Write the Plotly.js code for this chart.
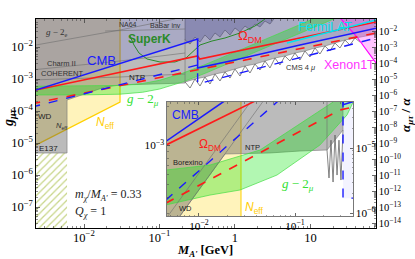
<!DOCTYPE html>
<html><head><meta charset="utf-8">
<script src="https://cdn.plot.ly/plotly-3.0.1.min.js"></script>
<style>html,body{margin:0;padding:0;background:#fff}</style>
</head><body><div id="chart" style="width:415px;height:259px"></div>
<script>
// ---------------- MAIN PANEL DATA (M in GeV, g_mu-tau) ----------------
const hatchM = [0.002, 0.00596];
const hatchG = [4.87e-6, 1e-8];
const neffM = [0.002, 0.030, 0.030, 0.002];
const neffG = [0.1, 0.1, 1.91e-4, 7.3e-6];
const grayCapM = [0.002, 100, 100];
const grayCapG = [0.1, 0.1, 0.029];
const cmsM = [0.218,0.254,0.295,0.344,0.400,0.467,0.543,0.633,0.737,0.859,1.00,1.165,1.357,1.58,1.84,2.143,2.496,2.907,3.385,3.943,4.592,5.348,6.229,7.255,8.449,9.84,11.46,13.35,15.55,18.11,21.09,24.56,28.61,33.32,38.8,45.19];
const cmsG = [8.06e-4,5.23e-4,1.0e-3,6.05e-4,1.155e-3,6.98e-4,1.43e-3,8.66e-4,1.66e-3,1.07e-3,2.05e-3,1.24e-3,2.55e-3,1.54e-3,2.94e-3,1.91e-3,3.65e-3,2.21e-3,4.53e-3,2.74e-3,5.23e-3,3.65e-3,6.49e-3,3.92e-3,7.5e-3,4.87e-3,9.31e-3,6.04e-3,1.075e-2,7.5e-3,1.333e-2,9.31e-3,1.655e-2,1.155e-2,1.913e-2,1.432e-2];
const ntpM = [0.218, 0.0748, 0.030, 0.019, 0.00596, 0.00596, 0.002];
const ntpG = [7.5e-4, 6.98e-4, 6.49e-4, 5.62e-4, 2.21e-4, 4.87e-6, 4.87e-6];
const babM = [0.218,0.218,0.254,0.295,0.344,0.400,0.467,0.543,0.633,0.737,0.859,1.0,1.165,1.357,1.58,1.84,2.143,2.496,2.907,3.6];
const babG = [0.1,0.01655,0.01241,0.02054,0.01432,0.0237,0.01655,0.0274,0.0205,0.034,0.0237,0.0393,0.02944,0.0453,0.034,0.0523,0.0422,0.0649,0.0523,0.1];
const cohM = [0.002, 0.030, 0.218];
const cohG = [9.3e-4, 1.155e-3, 1.43e-3];
const charmM = [0.002, 0.030, 0.218];
const charmG = [1.91e-3, 3.65e-3, 6.49e-3];
const g2eM = [0.002, 0.030, 0.16];
const g2eG = [1.087e-2, 0.034, 0.075];
const babInvM = [0.019, 0.218];
const babInvG = [0.0316, 0.0365];
const vlineM = [0.218, 0.218];
const vlineG = [0.0178, 8.06e-4];
const cmbM = [0.002, 0.32, 0.32, 1.0, 7.26, 100];
const cmbG = [4.06e-4, 0.0178, 2.21e-3, 3.92e-3, 0.01155, 0.0453];
const capM = [100, 0.002];
const capG = [0.1, 0.1];
const bdM = [0.002, 0.32, 0.32, 100];
const bdG = [1.31e-4, 2.74e-3, 6.98e-4, 0.0230];
const rsM = [0.002, 0.32, 0.34, 100];
const rsG = [4.22e-4, 5.23e-3, 4.22e-3, 0.0702];
const rdM = [0.002, 100];
const rdG = [1.66e-4, 0.0317];
const g2M  = [0.002,0.01,0.03,0.06,0.1,0.2,0.4,1,2,5,10,20,80];
const g2Up = [5.94e-4,5.98e-4,6.29e-4,7.24e-4,9.09e-4,1.5e-3,2.81e-3,6.91e-3,1.38e-2,3.44e-2,6.88e-2,0.1375,0.55];
const g2Lo = [3.17e-4,3.19e-4,3.35e-4,3.86e-4,4.85e-4,7.99e-4,1.5e-3,3.68e-3,7.34e-3,1.83e-2,3.67e-2,7.33e-2,0.294];
const skM = [0.0407,0.0459,0.0535,0.0683,0.1016,0.160,0.2244,0.2778,0.344,0.4958,0.737,1.165,1.84,2.496];
const skG = [0.0221,0.01155,0.00649,0.00422,0.0034,0.0034,0.00453,0.0075,0.01155,0.0154,0.0191,0.0274,0.0453,0.075];
const fermiM = [4.88, 100];
const fermiG = [0.01334, 0.084];
const xenM = [22.8, 25.3, 41.3, 73.7, 100, 100];
const xenG = [0.1, 0.075, 0.0205, 3.16e-3, 1.19e-3, 0.1];

// ---------------- INSET DATA ----------------
const insNeffM = [0.004, 0.0274, 0.0274, 0.004];
const insNeffG = [0.003, 0.003, 2.5e-4, 2.5e-4];
const insJagM = [0.2154,0.226,0.237,0.249,0.261,0.274,0.287,0.301,0.3162];
const insJagG = [9.24e-4,5.63e-4,1.10e-3,5.24e-4,1.205e-3,5.93e-4,1.10e-3,5.43e-4,1.316e-3];
const insGrayTopM = [0.0045, 0.3162];
const insGrayTopG = [2.3e-3, 2.3e-3];
const insNtpM = [0.1128, 0.0549, 0.01866, 0.00634, 0.00634, 0.0045];
const insNtpG = [9.08e-4, 8.77e-4, 8.61e-4, 2.87e-4, 2.7e-4, 2.7e-4];
const insUpM = [0.0045,0.01303,0.0432,0.0953,0.249,0.262];
const insUpG = [6.48e-4,7.08e-4,9.24e-4,1.36e-3,2.16e-3,2.3e-3];
const insLoM = [0.0045,0.01303,0.02674,0.0649,0.182,0.3483,0.42];
const insLoG = [3.49e-4,4.16e-4,4.55e-4,5.93e-4,1.01e-3,1.72e-3,2.3e-3];
const insCmbM = [0.0045, 0.0201];
const insCmbG = [1.074e-3, 2.3e-3];
const insCmb2M = [0.3162, 0.3162, 0.42];
const insCmb2G = [2.4e-3, 2.06e-3, 2.2e-3];
const insRsM = [0.0045, 0.0433];
const insRsG = [1.007e-3, 2.3e-3];
const insBdM = [0.0045, 0.0714];
const insBdG = [3.80e-4, 2.3e-3];
const insBoxM = [0.3162, 0.3162, 0.42, 0.42];
const insBoxG = [2.3e-3, 3.94e-4, 3.94e-4, 2.3e-3];
const insRdM = [0.0045, 0.2944, 0.42];
const insRdG = [3.60e-4, 1.88e-3, 1.99e-3];
const insL1M = [0.00475, 0.0356];
const insL1G = [2.87e-4, 2.24e-3];
const insL2M = [0.00634, 0.0476];
const insL2G = [2.87e-4, 2.24e-3];
const insVM = [0.2154, 0.2154];
const insVG = [2.3e-3, 9.24e-4];

// ---------------- BUILD TRACES ----------------
const traces = [];
function add(t, inset){
  t.type = 'scatter'; t.mode = 'lines'; t.hoverinfo = 'skip';
  if (inset) { t.xaxis = 'x2'; t.yaxis = 'y3'; }
  traces.push(t);
}
const rev = a => a.slice().reverse();
const even = a => a.filter((v, i) => i % 2 === 0);
const BLUE = '#1a1aff', RED = '#ff1a1a', GLINE = '#777';

// main
add({x:[hatchM[0],hatchM[1],hatchM[1],hatchM[0]], y:[hatchG[0],hatchG[0],hatchG[1],hatchG[1]],
     fill:'toself', fillcolor:'#ffffff',
     fillpattern:{shape:'/', fgcolor:'#c8d68a', bgcolor:'#ffffff', size:5, solidity:0.25}, line:{width:0}});
add({x:neffM, y:neffG, fill:'toself', fillcolor:'rgba(255,222,60,0.35)', line:{color:'#ffd000', width:1.2}});
add({x:grayCapM.concat(rev(even(cmsM)), ntpM), y:grayCapG.concat(rev(even(cmsG)), ntpG),
     fill:'toself', fillcolor:'rgba(85,85,85,0.40)', line:{color:GLINE, width:0.6}});
add({x:cmsM, y:cmsG, line:{color:'#666', width:0.8}});
add({x:babM, y:babG, fill:'toself', fillcolor:'rgba(50,50,110,0.28)', line:{color:'#555', width:0.6}});
add({x:cmbM.concat(capM), y:cmbG.concat(capG), fill:'toself', fillcolor:'rgba(70,70,255,0.14)', line:{width:0}});
add({x:xenM, y:xenG, fill:'toself', fillcolor:'rgba(255,60,255,0.30)', line:{color:'#ff00ff', width:1.2}});
add({x:g2M.concat(rev(g2M)), y:g2Up.concat(rev(g2Lo)), fill:'toself', fillcolor:'rgba(0,230,0,0.30)', line:{color:'#44dd44', width:0.7}});
[[cohM,cohG],[charmM,charmG],[g2eM,g2eG],[babInvM,babInvG],[vlineM,vlineG]].forEach(p=>{
  add({x:p[0], y:p[1], line:{color:'#6e6e6e', width:0.6}});
});
add({x:skM, y:skG, line:{color:'#2a8a2a', width:1.0}});
add({x:rdM, y:rdG, line:{color:RED, width:1.6, dash:'dash'}});
add({x:bdM, y:bdG, line:{color:BLUE, width:1.4, dash:'dash'}});
add({x:rsM, y:rsG, line:{color:RED, width:1.6}});
add({x:cmbM, y:cmbG, line:{color:BLUE, width:1.6}});
add({x:fermiM, y:fermiG, line:{color:'#00e5ee', width:1.6}});
// invisible carrier so the right-hand alpha axis is drawn
traces.push({type:'scatter', mode:'lines', x:rdM, y:rdG, xaxis:'x', yaxis:'y2', opacity:0, line:{width:0}, hoverinfo:'skip'});

// inset
add({x:insNeffM, y:insNeffG, fill:'toself', fillcolor:'rgba(255,222,60,0.35)', line:{color:'#ffd000', width:1}}, true);
add({x:insGrayTopM.concat([insJagM[insJagM.length-1], insJagM[0]], insNtpM),
     y:insGrayTopG.concat([insJagG[insJagG.length-1], insJagG[0]], insNtpG),
     fill:'toself', fillcolor:'rgba(85,85,85,0.40)', line:{color:GLINE, width:0.6}}, true);
add({x:insBoxM, y:insBoxG, fill:'toself', fillcolor:'rgba(190,190,255,0.18)', line:{width:0}}, true);
add({x:insUpM.concat(rev(insLoM)), y:insUpG.concat(rev(insLoG)), fill:'toself', fillcolor:'rgba(0,230,0,0.30)', line:{color:'#44dd44', width:0.7}}, true);
add({x:insJagM, y:insJagG, line:{color:'#666', width:0.8}}, true);
[[insL1M,insL1G],[insL2M,insL2G],[insVM,insVG]].forEach(p=>{
  add({x:p[0], y:p[1], line:{color:'#6e6e6e', width:0.6}}, true);
});
add({x:insRdM, y:insRdG, line:{color:RED, width:1.6, dash:'dash'}}, true);
add({x:insBdM, y:insBdG, line:{color:BLUE, width:1.4, dash:'dash'}}, true);
add({x:insBoxM.slice(0,3), y:insBoxG.slice(0,3), line:{color:BLUE, width:1.4, dash:'dash'}}, true);
add({x:insRsM, y:insRsG, line:{color:RED, width:1.6}}, true);
add({x:insCmbM, y:insCmbG, line:{color:BLUE, width:1.6}}, true);
add({x:insCmb2M, y:insCmb2G, line:{color:BLUE, width:1.6}}, true);
traces.push({type:'scatter', mode:'lines', x:insRdM, y:insRdG, xaxis:'x2', yaxis:'y4', opacity:0, line:{width:0}, hoverinfo:'skip'});

// ---------------- LAYOUT ----------------
const L = 36, R = 376, T = 19, B = 228;
const px = x => (x - L) / (R - L);
const py = y => (B - y) / (B - T);
const SANS = 'Liberation Sans', SERIF = 'Liberation Serif';
function A(x, y, text, size, color, extra){
  return Object.assign({xref:'paper', yref:'paper', x:px(x), y:py(y), text:text, showarrow:false,
    font:{family:SANS, size:size, color:color}, xanchor:'center', yanchor:'middle'}, extra || {});
}
const annotations = [
  A(57, 32, '<i>g</i> − 2<sub>e</sub>', 9, '#333', {font:{family:SERIF, size:9, color:'#333'}}),
  A(61, 63, 'Charm II', 7.5, '#333'),
  A(62, 73, 'COHERENT', 7.5, '#333'),
  A(101, 60, 'CMB', 13, BLUE),
  A(128, 24, 'NA64', 7, '#333'),
  A(165, 25, 'BaBar inv', 7, '#333'),
  A(149, 39, '<b>SuperK</b>', 12, '#2a8a2a'),
  A(137, 77, 'NTP', 8, '#222'),
  A(250, 36, 'Ω<sub>DM</sub>', 13, RED),
  A(325, 27, 'FermiLAT', 12.5, '#00e0ee'),
  A(349, 65, 'Xenon1T', 12.5, '#ff33ff'),
  A(300, 67, 'CMS 4 <i>μ</i>', 7.5, '#333'),
  A(143, 99, '<i>g</i> − 2<sub><i>μ</i></sub>', 13, '#33e033', {font:{family:SERIF, size:13, color:'#33e033'}}),
  A(105, 123, '<i>N</i><sub>eff</sub>', 12, '#ffcc00'),
  A(62, 126, '<i>N</i><sub>eff</sub>', 7.5, '#333'),
  A(45, 116, 'WD', 8, '#222'),
  A(48, 148, 'E137', 8, '#222'),
  A(73, 195, '<i>m</i><sub><i>χ</i></sub>/<i>M</i><sub><i>A\'</i></sub> = 0.33', 12, '#222',
    {xanchor:'left', font:{family:SERIF, size:12, color:'#222'}}),
  A(73, 212, '<i>Q</i><sub><i>χ</i></sub> = 1', 12, '#222',
    {xanchor:'left', font:{family:SERIF, size:12, color:'#222'}}),
  // inset labels
  A(185, 115, 'CMB', 12, BLUE),
  A(210, 145, 'Ω<sub>DM</sub>', 12, RED),
  A(252, 147, 'NTP', 7.5, '#222'),
  A(188, 162, 'Borexino', 7.5, '#222'),
  A(185, 208, 'WD', 7.5, '#222'),
  A(254, 208, '<i>N</i><sub>eff</sub>', 12, '#ffcc00'),
  A(298, 184, '<i>g</i> − 2<sub><i>μ</i></sub>', 13, '#33e033', {font:{family:SERIF, size:13, color:'#33e033'}}),
  // axis titles
  A(205, 251, '<b><i>M</i><sub><i>A\'</i></sub> [GeV]</b>', 12.5, '#000', {font:{family:SERIF, size:12.5, color:'#000'}}),
  A(9, 118, '<b><i>g</i><sub><i>μτ</i></sub></b>', 14, '#000', {textangle:-90, font:{family:SERIF, size:14, color:'#000'}}),
  A(407, 115, '<b><i>α</i><sub><i>μτ</i></sub> / <i>α</i></b>', 13, '#000', {textangle:-90, font:{family:SERIF, size:13, color:'#000'}})
];

function logAx(extra){
  return Object.assign({type:'log', dtick:1, exponentformat:'power', ticks:'inside', ticklen:4, tickwidth:0.8,
    minor:{ticks:'inside', ticklen:2, tickwidth:0.6}, showline:true, linecolor:'#000', linewidth:1,
    showgrid:false, zeroline:false, tickfont:{family:SERIF, size:10, color:'#000'}}, extra);
}
const layout = {
  width:415, height:259, margin:{l:L, r:415-R, t:T, b:259-B},
  paper_bgcolor:'#fff', plot_bgcolor:'#fff', showlegend:false,
  font:{family:SERIF, size:10, color:'#000'},
  xaxis: logAx({range:[-2.636, 1.868], mirror:'ticks', ticklabelstandoff:-2}),
  yaxis: logAx({range:[-7.656, -1.125]}),
  yaxis2: logAx({range:[-14.274, -1.212], overlaying:'y', side:'right', anchor:'x', tickfont:{family:SERIF, size:8.5, color:'#000'}}),
  xaxis2: logAx({domain:[px(167), px(353)], anchor:'y3', range:[-2.333, -0.396], mirror:'ticks', linecolor:'#777',
    ticklen:3, minor:{ticks:'inside', ticklen:1.5, tickwidth:0.5}, tickfont:{family:SERIF, size:9, color:'#000'}}),
  yaxis3: logAx({domain:[py(216), py(102)], anchor:'x2', range:[-3.542, -2.665], linecolor:'#777',
    ticklen:3, minor:{ticks:'inside', ticklen:1.5, tickwidth:0.5}, tickfont:{family:SERIF, size:9, color:'#000'}}),
  yaxis4: logAx({range:[-6.046, -4.292], overlaying:'y3', side:'right', anchor:'x2', linecolor:'#777',
    ticklen:3, minor:{ticks:'inside', ticklen:1.5, tickwidth:0.5}, tickfont:{family:SERIF, size:9, color:'#000'}}),
  annotations: annotations
};
Plotly.newPlot('chart', traces, layout, {staticPlot:true, displayModeBar:false});
</script></body></html>
